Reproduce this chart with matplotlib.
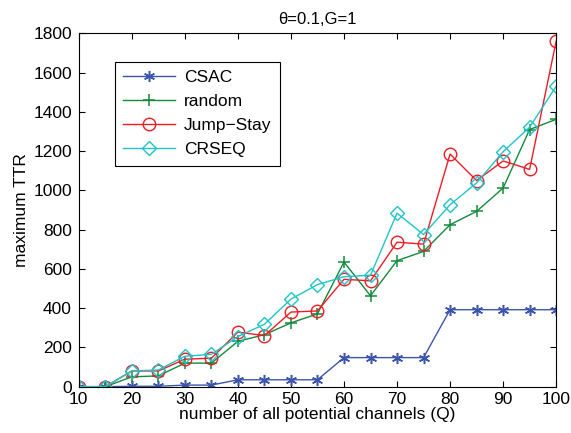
import numpy as np
import matplotlib.pyplot as plt

plt.rcParams['font.family'] = ['Liberation Sans', 'DejaVu Sans']

Q = [10, 15, 20, 25, 30, 35, 40, 45, 50, 55, 60, 65, 70, 75, 80, 85, 90, 95, 100]
ttr_csac = [0, 0, 2, 2, 8, 8, 35, 35, 35, 35, 148, 148, 148, 148, 392, 392, 392, 392, 392]
ttr_random = [0, 0, 50, 55, 120, 120, 231, 265, 325, 371, 635, 463, 642, 689, 825, 893, 1012, 1310, 1362]
ttr_js = [0, 0, 80, 80, 140, 145, 278, 260, 380, 386, 547, 539, 736, 726, 1185, 1050, 1150, 1107, 1760]
ttr_crseq = [0, 0, 80, 85, 155, 165, 255, 318, 446, 520, 560, 568, 884, 775, 927, 1038, 1197, 1322, 1530]

fig = plt.figure(figsize=(5.71, 4.33), dpi=100)
ax = fig.add_axes([0.138, 0.107, 0.836, 0.816])

ax.plot(Q, ttr_csac, color='#3c55ac', marker=(6, 2, 0), markersize=8, mew=1.1, lw=1, label='CSAC')
ax.plot(Q, ttr_random, color='#138a3c', marker='+', markersize=9, mew=1.1, lw=1, label='random')
ax.plot(Q, ttr_js, color='#ee1c25', marker='o', markersize=9, mfc='none', lw=1, label='Jump\u2212Stay')
ax.plot(Q, ttr_crseq, color='#1fc4c8', marker='D', markersize=7, mfc='none', lw=1, label='CRSEQ')

ax.set_xlim(10, 100)
ax.set_ylim(0, 1800)
ax.set_xticks(np.arange(10, 101, 10))
ax.set_yticks(np.arange(0, 1801, 200))
ax.tick_params(direction='in', top=True, right=True, labelsize=12.5, length=4)
ax.tick_params(axis='x', pad=4)
ax.tick_params(axis='y', pad=5)
for s in ax.spines.values():
    s.set_linewidth(0.8)

ax.set_xlabel('number of all potential channels (Q)', fontsize=12.5, labelpad=0)
ax.set_ylabel('maximum TTR', fontsize=12.5, labelpad=3)
ax.set_title('\u03b8=0.1,G=1', fontsize=12, pad=7)

leg = ax.legend(loc='upper left', bbox_to_anchor=(0.075, 0.92), borderaxespad=0,
                fontsize=12.5, fancybox=False, edgecolor='black', framealpha=1,
                handlelength=3.0, handletextpad=0.5, borderpad=0.5, labelspacing=0.5)
leg.get_frame().set_linewidth(0.8)

fig.savefig('out.png', dpi=100)
